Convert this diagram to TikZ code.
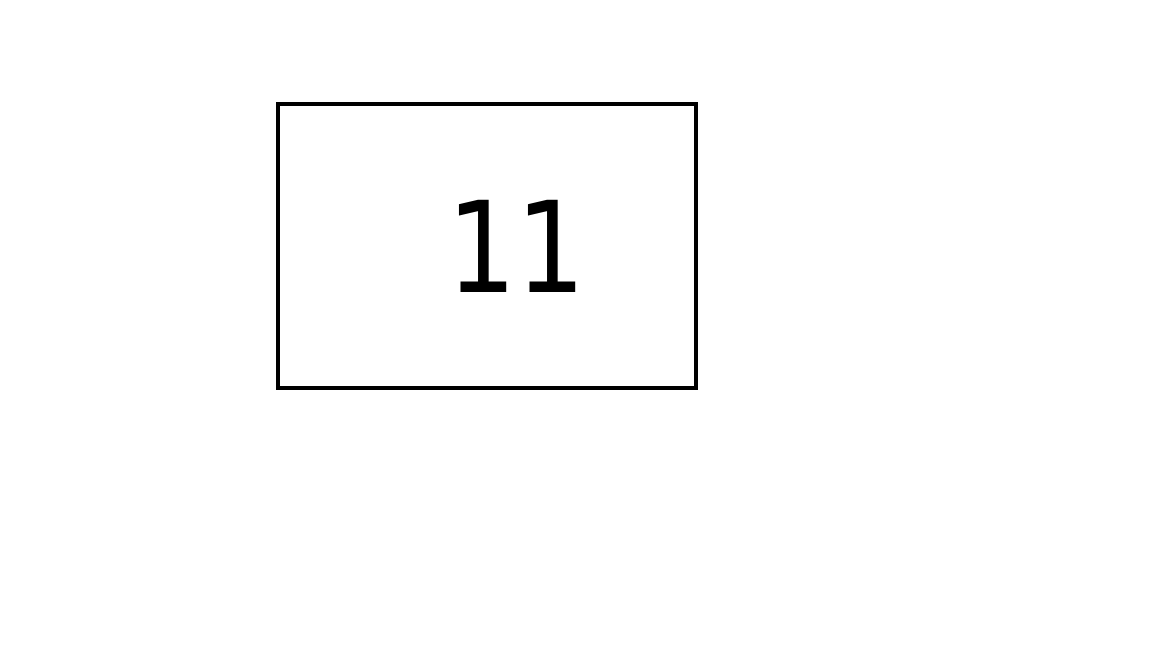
\documentclass[tikz,border=0pt]{standalone}
\usepackage{fontspec}
\setmainfont{DejaVu Sans}
\newfontfamily\zahlfont[FakeStretch=0.86]{DejaVu Sans}
\tikzset{
	zahlbox/.style={draw, line width=1.6pt},
	zahl/.style={inner sep=0pt, font=\zahlfont\fontsize{50}{60}\selectfont}
}
\begin{document}
\begin{tikzpicture}
		\useasboundingbox (0,0) rectangle (16,9);
		% Rahmen
		\draw[zahlbox] (3.861,7.556) rectangle (9.667,3.611);
		% Zahl
		\node[zahl] (zahl) at (7.176,5.576) {11};
	\end{tikzpicture}
\end{document}
